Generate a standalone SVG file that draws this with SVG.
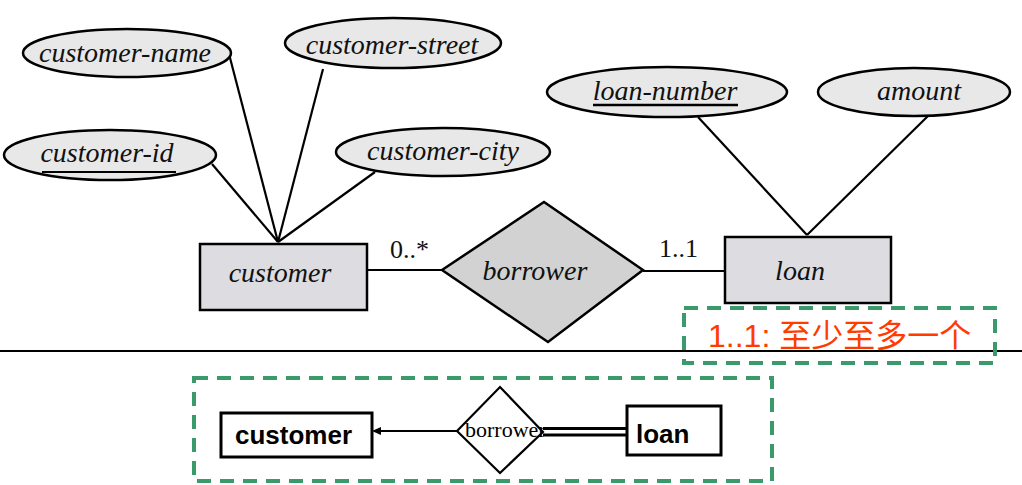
<svg xmlns="http://www.w3.org/2000/svg" width="1022" height="485" viewBox="0 0 1022 485">
<style>
.attr{fill:#e8e8e8;stroke:#000;stroke-width:2.5}
.ent{fill:#dddce0;stroke:#000;stroke-width:2.5}
.rel{fill:#d2d2d2;stroke:#000;stroke-width:2.5}
.it{font-family:"Liberation Serif",serif;font-style:italic;font-size:28px;fill:#111;text-anchor:middle}
.card{font-family:"Liberation Serif",serif;font-size:26px;fill:#111}
.ln{stroke:#000;stroke-width:2.2;fill:none}
.dash{fill:none;stroke:#3a9a6a;stroke-width:4;stroke-dasharray:14 9}
.bent{fill:#fff;stroke:#000;stroke-width:3}
.btxt{font-family:"Liberation Sans",Arial,sans-serif;font-weight:bold;font-size:26px;fill:#000}
</style>
<rect width="1022" height="485" fill="#fff"/>
<g id="connectors">
<line class="ln" x1="229" y1="54" x2="278" y2="242"/>
<line class="ln" x1="323" y1="69" x2="278" y2="242"/>
<line class="ln" x1="212" y1="164" x2="278" y2="242"/>
<line class="ln" x1="375" y1="172" x2="278" y2="242"/>
<line class="ln" x1="367" y1="270" x2="442" y2="270"/>
<line class="ln" x1="643" y1="271" x2="725" y2="271"/>
<line class="ln" x1="698" y1="117" x2="807" y2="235"/>
<line class="ln" x1="928" y1="116" x2="807" y2="235"/>
<line class="ln" x1="380" y1="431" x2="457" y2="431"/>
<polygon points="372,431 381,427 381,435" fill="#000"/>
<line x1="543" y1="428.5" x2="627" y2="428.5" stroke="#000" stroke-width="3"/>
<line x1="543" y1="435" x2="627" y2="435" stroke="#000" stroke-width="3"/>
</g>
<line x1="0" y1="351" x2="1022" y2="351" stroke="#000" stroke-width="2"/>
<g id="customer-name">
<ellipse class="attr" cx="127" cy="53" rx="104" ry="24"/>
<text class="it" x="125" y="62">customer-name</text>
</g>
<g id="customer-street">
<ellipse class="attr" cx="393" cy="43" rx="108" ry="25"/>
<text class="it" x="392" y="54">customer-street</text>
</g>
<g id="customer-id">
<ellipse class="attr" cx="110" cy="155" rx="106" ry="25"/>
<text class="it" x="107" y="162">customer-id</text>
<line x1="42" y1="172" x2="176" y2="172" stroke="#000" stroke-width="2"/>
</g>
<g id="customer-city">
<ellipse class="attr" cx="443" cy="152" rx="107" ry="24"/>
<text class="it" x="443" y="160">customer-city</text>
</g>
<g id="loan-number">
<ellipse class="attr" cx="667" cy="92" rx="120" ry="25"/>
<text class="it" x="665" y="100">loan-number</text>
<line x1="593" y1="105" x2="738" y2="105" stroke="#000" stroke-width="2.5"/>
</g>
<g id="amount">
<ellipse class="attr" cx="914" cy="92" rx="96" ry="24"/>
<text class="it" x="919" y="100">amount</text>
</g>
<g id="customer">
<rect class="ent" x="200" y="244" width="167" height="66"/>
<text class="it" x="280" y="282">customer</text>
</g>
<g id="borrower">
<polygon class="rel" points="442,270 544,202 643,270 548,342"/>
<text class="it" x="535" y="280">borrower</text>
</g>
<g id="loan">
<rect class="ent" x="725" y="237" width="166" height="66"/>
<text class="it" x="800" y="280">loan</text>
</g>
<text class="card" x="390" y="258">0..*</text>
<text class="card" x="659" y="257">1..1</text>
<g id="note">
<rect class="dash" x="684" y="308" width="311" height="55"/>
<text x="708" y="347" font-family="'Liberation Sans','Noto Sans CJK SC',sans-serif" font-size="32" fill="#ff3c00">1..1: 至少至多一个</text>
</g>
<g id="bottom-box">
<rect class="dash" x="194" y="378" width="578" height="103"/>
</g>
<g id="b-customer">
<rect class="bent" x="221" y="413" width="151" height="44"/>
<text class="btxt" x="235" y="444">customer</text>
</g>
<g id="b-borrower">
<polygon points="457,431 500,387 543,432 500,473" fill="#fff" stroke="#000" stroke-width="2.2"/>
<text x="465" y="437" font-family="'Liberation Serif',serif" font-size="22" fill="#000">borrower</text>
</g>
<g id="b-loan">
<rect class="bent" x="627" y="406" width="94" height="49"/>
<text class="btxt" x="636" y="443" font-size="27">loan</text>
</g>
</svg>
